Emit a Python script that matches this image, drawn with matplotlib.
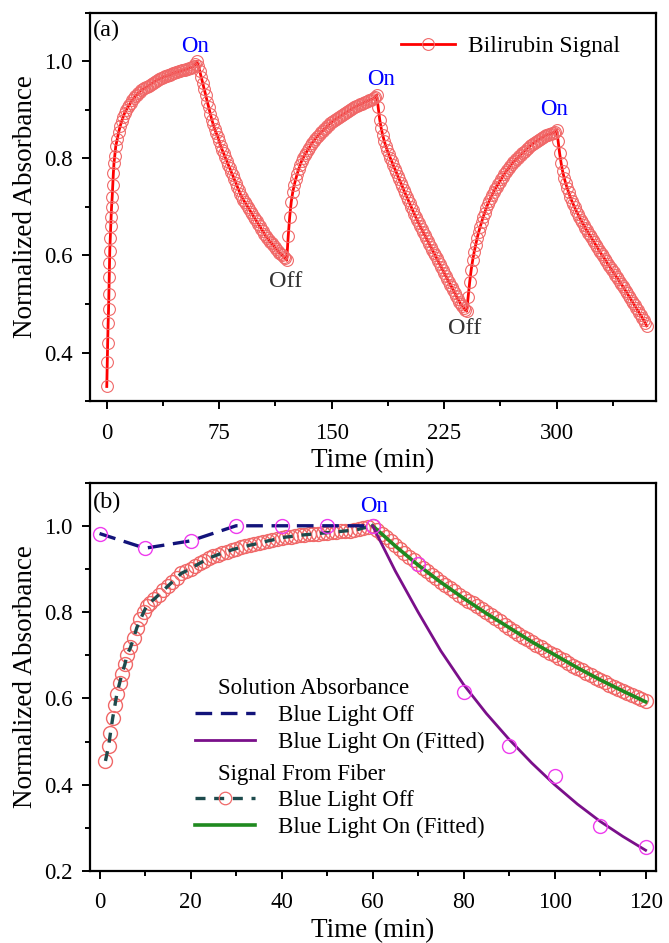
import matplotlib
matplotlib.use("Agg")
from matplotlib import pyplot as plt
from matplotlib.ticker import MultipleLocator
from matplotlib.lines import Line2D
import numpy as np

plt.rcParams['font.family'] = ['Liberation Serif', 'DejaVu Serif']

# ---- panel (a): bilirubin signal, light switched on/off every 60 min ----
# fast first rise sampled finer, then one reading per minute
a_time_start = [0, 0.3, 0.6, 0.9, 1.2, 1.4, 1.6, 1.8, 2.0, 2.3, 2.6, 2.9, 3.2, 3.6, 4.0, 4.4,
                4.8, 5.3]
a_norm_start = [0.33, 0.38, 0.42, 0.46, 0.49, 0.52, 0.555, 0.585, 0.61, 0.635, 0.66, 0.68,
                0.70, 0.72, 0.745, 0.77, 0.79, 0.805]
a_time_min = np.arange(6, 361)
a_norm_min = [
    # 6 - 60 dark recovery
    0.825, 0.84, 0.855, 0.867, 0.877, 0.886, 0.894, 0.90, 0.905, 0.91, 0.915, 0.92, 0.924,
    0.928, 0.931, 0.934, 0.937, 0.94, 0.942, 0.944, 0.946, 0.948, 0.95, 0.952, 0.954, 0.956,
    0.958, 0.96, 0.962, 0.963, 0.965, 0.966, 0.968, 0.969, 0.97, 0.971, 0.972, 0.974, 0.975,
    0.976, 0.977, 0.978, 0.979, 0.98, 0.981, 0.982, 0.983, 0.984, 0.985, 0.986, 0.987, 0.988,
    0.99, 0.994, 1.0,
    # 61 - 120 light on
    0.99, 0.98, 0.967, 0.955, 0.942, 0.93, 0.917, 0.905, 0.892, 0.88, 0.87, 0.86, 0.852,
    0.845, 0.835, 0.825, 0.817, 0.81, 0.802, 0.795, 0.787, 0.78, 0.772, 0.765, 0.757, 0.75,
    0.742, 0.735, 0.727, 0.72, 0.715, 0.71, 0.705, 0.70, 0.695, 0.69, 0.685, 0.68, 0.675,
    0.67, 0.665, 0.66, 0.655, 0.65, 0.645, 0.64, 0.636, 0.632, 0.628, 0.625, 0.621, 0.617,
    0.613, 0.61, 0.606, 0.603, 0.60, 0.597, 0.594, 0.59,
    # 121 - 180 light off
    0.64, 0.68, 0.71, 0.73, 0.745, 0.757, 0.768, 0.778, 0.787, 0.795, 0.801, 0.807, 0.812,
    0.817, 0.822, 0.827, 0.832, 0.836, 0.84, 0.844, 0.847, 0.851, 0.854, 0.857, 0.86, 0.863,
    0.866, 0.869, 0.872, 0.875, 0.877, 0.879, 0.881, 0.883, 0.885, 0.887, 0.889, 0.891,
    0.893, 0.895, 0.897, 0.899, 0.901, 0.903, 0.905, 0.907, 0.908, 0.91, 0.911, 0.913, 0.914,
    0.916, 0.917, 0.918, 0.92, 0.921, 0.922, 0.924, 0.926, 0.93,
    # 181 - 240 light on
    0.905, 0.88, 0.862, 0.848, 0.836, 0.826, 0.817, 0.809, 0.801, 0.794, 0.786, 0.779, 0.772,
    0.764, 0.757, 0.75, 0.743, 0.735, 0.728, 0.721, 0.714, 0.707, 0.70, 0.693, 0.686, 0.679,
    0.673, 0.666, 0.66, 0.654, 0.648, 0.642, 0.636, 0.63, 0.624, 0.618, 0.612, 0.606, 0.60,
    0.594, 0.588, 0.582, 0.576, 0.57, 0.564, 0.558, 0.552, 0.546, 0.54, 0.535, 0.529, 0.523,
    0.517, 0.511, 0.505, 0.50, 0.496, 0.492, 0.488, 0.485,
    # 241 - 300 light off
    0.515, 0.545, 0.57, 0.59, 0.607, 0.622, 0.636, 0.648, 0.659, 0.669, 0.679, 0.688, 0.697,
    0.705, 0.712, 0.719, 0.725, 0.731, 0.737, 0.742, 0.747, 0.752, 0.757, 0.762, 0.767, 0.772,
    0.776, 0.78, 0.784, 0.788, 0.792, 0.795, 0.798, 0.801, 0.804, 0.807, 0.81, 0.813, 0.816,
    0.819, 0.822, 0.825, 0.828, 0.83, 0.832, 0.834, 0.836, 0.838, 0.84, 0.842, 0.844, 0.846,
    0.848, 0.849, 0.85, 0.851, 0.852, 0.853, 0.855, 0.858,
    # 301 - 360 light on
    0.835, 0.81, 0.79, 0.773, 0.76, 0.749, 0.739, 0.73, 0.721, 0.713, 0.706, 0.699, 0.692,
    0.686, 0.68, 0.674, 0.668, 0.663, 0.657, 0.652, 0.647, 0.642, 0.637, 0.632, 0.627, 0.622,
    0.617, 0.612, 0.607, 0.602, 0.598, 0.593, 0.588, 0.583, 0.579, 0.574, 0.569, 0.565, 0.56,
    0.555, 0.551, 0.546, 0.541, 0.537, 0.532, 0.527, 0.522, 0.517, 0.512, 0.507, 0.502, 0.497,
    0.492, 0.487, 0.482, 0.477, 0.472, 0.467, 0.461, 0.455]
a_time = list(a_time_start) + list(a_time_min)
a_norm = a_norm_start + a_norm_min
a_on_time = [59, 183, 298]
a_on_y = [1.03, 0.963, 0.90]
a_off_time = [119, 239]
a_off_y = [0.546, 0.45]

# ---- panel (b): solution vs fiber signal, one cycle ----
sol_time = [0, 10, 20, 30, 40, 50, 60, 70, 80, 90, 100, 110, 120]
sol_norm = [0.982, 0.948, 0.965, 1.0, 1.0, 1.0, 1.0, 0.911, 0.615, 0.49, 0.42, 0.305, 0.255]
sol_off_time = [0, 10, 20, 30, 40, 50, 60]
sol_off_norm = [0.982, 0.948, 0.965, 1.0, 1.0, 1.0, 1.0]
sol_fit_time = [60, 65, 70, 75, 80, 85, 90, 95, 100, 105, 110, 115, 120]
sol_fit_norm = [1.0, 0.895, 0.80, 0.71, 0.632, 0.565, 0.505, 0.45, 0.40, 0.355, 0.315, 0.28, 0.248]

fib_time = [1.3, 2.0, 2.4, 2.9, 3.4, 3.8, 4.4, 4.9, 5.6, 6.0, 6.8, 7.5, 8.2, 9.0, 9.7, 10.4,
            11, 12, 13, 14, 15, 16, 17, 18, 19, 20, 21, 22, 23, 24, 25, 26, 27, 28, 29, 30,
            31, 32, 33, 34, 35, 36, 37, 38, 39, 40, 41, 42, 43, 44, 45, 46, 47, 48, 49, 50,
            51, 52, 53, 54, 55, 56, 57, 58, 59, 60,
            61, 62, 63, 64, 65, 66, 67, 68, 69, 70, 71, 72, 73, 74, 75, 76, 77, 78, 79, 80,
            81, 82, 83, 84, 85, 86, 87, 88, 89, 90, 91, 92, 93, 94, 95, 96, 97, 98, 99, 100,
            101, 102, 103, 104, 105, 106, 107, 108, 109, 110, 111, 112, 113, 114, 115, 116,
            117, 118, 119, 120]
fib_norm = [0.455, 0.49, 0.52, 0.555, 0.585, 0.61, 0.635, 0.656, 0.68, 0.70, 0.718, 0.74,
            0.764, 0.783, 0.80, 0.815,
            0.822, 0.83, 0.84, 0.85, 0.86, 0.87, 0.88, 0.89, 0.895, 0.90, 0.907, 0.913, 0.919,
            0.925, 0.929, 0.933, 0.937, 0.94, 0.944, 0.947, 0.95, 0.952, 0.955, 0.957, 0.96,
            0.962, 0.965, 0.967, 0.97, 0.972, 0.974, 0.975, 0.977, 0.978, 0.979, 0.98, 0.981,
            0.982, 0.983, 0.984, 0.985, 0.986, 0.987, 0.988, 0.989, 0.99, 0.992, 0.995, 0.997,
            1.0,
            0.991, 0.982, 0.973, 0.964, 0.955, 0.946, 0.937, 0.928, 0.920, 0.911, 0.903, 0.895,
            0.886, 0.878, 0.870, 0.863, 0.855, 0.848, 0.840, 0.833, 0.826, 0.820, 0.813, 0.806,
            0.800, 0.793, 0.786, 0.779, 0.771, 0.763, 0.757, 0.750, 0.743, 0.737, 0.730, 0.724,
            0.718, 0.712, 0.706, 0.700, 0.694, 0.688, 0.682, 0.676, 0.670, 0.665, 0.659, 0.654,
            0.648, 0.643, 0.638, 0.632, 0.627, 0.622, 0.617, 0.612, 0.608, 0.603, 0.599, 0.594]
fib_fit_time = [60, 65, 70, 75, 80, 85, 90, 95, 100, 105, 110, 115, 120]
fib_fit_norm = [1.0, 0.953, 0.909, 0.869, 0.832, 0.797, 0.764, 0.731, 0.701, 0.671, 0.643,
                0.617, 0.592]

RED_MK = '#f06868'
fig = plt.figure(figsize=(6.69, 9.43), dpi=100)
ax1 = fig.add_axes([0.1345, 0.5747, 0.8455, 0.4118])
ax2 = fig.add_axes([0.1345, 0.0764, 0.8455, 0.4118])


def style_axes(ax):
    for s in ax.spines.values():
        s.set_linewidth(1.6)
    ax.tick_params(which='both', direction='out', top=False, right=False,
                   labelsize=16.5, width=1.4)
    ax.tick_params(which='major', length=5.5)
    ax.tick_params(which='minor', length=3.5)
    ax.tick_params(axis='x', which='major', pad=10)
    ax.tick_params(axis='y', which='major', pad=7)
    ax.set_ylabel('Normalized Absorbance', fontsize=19.5, labelpad=4)
    ax.set_xlabel('Time (min)', fontsize=19.5, labelpad=3)


# panel (a)
ax1.plot(a_time, a_norm, color='red', lw=2, marker='o', ms=8.5, mfc='none',
         mec=RED_MK, mew=0.8, label='Bilirubin Signal')
for t, y in zip(a_on_time, a_on_y):
    ax1.text(t, y, 'On', color='blue', fontsize=16.5, ha='center', va='center')
for t, y in zip(a_off_time, a_off_y):
    ax1.text(t, y, 'Off', color='#333333', fontsize=17.5, ha='center', va='center')
ax1.text(0.006, 0.955, '(a)', transform=ax1.transAxes, fontsize=17.5, va='center')
ax1.set_xlim(-11.2, 366)
ax1.set_ylim(0.30, 1.10)
ax1.xaxis.set_major_locator(MultipleLocator(75))
ax1.xaxis.set_minor_locator(MultipleLocator(37.5))
ax1.yaxis.set_major_locator(MultipleLocator(0.2))
ax1.yaxis.set_minor_locator(MultipleLocator(0.1))
style_axes(ax1)
ax1.legend(loc='upper right', bbox_to_anchor=(0.975, 0.995), frameon=False, fontsize=17,
           handlelength=2.3, handletextpad=0.55)

# panel (b)
ax2.plot(fib_time, fib_norm, ls='none', marker='o', ms=10, mfc='none', mec=RED_MK, mew=1.0)
ax2.plot(fib_time[:66], fib_norm[:66], color='#1d4a4c', lw=2.4, dashes=(3, 2.6))
ax2.plot(fib_fit_time, fib_fit_norm, color='#1f8a1f', lw=2.6)
ax2.plot(sol_off_time, sol_off_norm, color='#12137a', lw=2.4, dashes=(5, 2.6))
ax2.plot(sol_fit_time, sol_fit_norm, color='#7a0f8a', lw=2)
ax2.plot(sol_time, sol_norm, ls='none', marker='o', ms=10, mfc='none', mec='#ee3cee', mew=1)
ax2.text(60.4, 1.045, 'On', color='blue', fontsize=16.5, ha='center', va='center')
ax2.text(0.006, 0.95, '(b)', transform=ax2.transAxes, fontsize=17.5, va='center')
ax2.set_xlim(-2.1, 122.2)
ax2.set_ylim(0.2, 1.1)
ax2.xaxis.set_major_locator(MultipleLocator(20))
ax2.xaxis.set_minor_locator(MultipleLocator(10))
ax2.yaxis.set_major_locator(MultipleLocator(0.2))
ax2.yaxis.set_minor_locator(MultipleLocator(0.1))
style_axes(ax2)

h_sol = [Line2D([], [], color='#12137a', lw=2.4, dashes=(5, 2.6)),
         Line2D([], [], color='#7a0f8a', lw=2)]
h_fib = [Line2D([], [], color='#1d4a4c', lw=2.4, dashes=(3, 2.6), marker='o', ms=9,
                mfc='none', mec=RED_MK, mew=0.9),
         Line2D([], [], color='#1f8a1f', lw=2.6)]
labels = ['Blue Light Off', 'Blue Light On (Fitted)']
leg1 = ax2.legend(h_sol, labels, title='    Solution Absorbance', loc='upper left',
                  bbox_to_anchor=(0.17, 0.52), frameon=False, fontsize=16.5,
                  title_fontsize=16.5, handlelength=2.6, handletextpad=1.0,
                  labelspacing=0.25, alignment='left', borderaxespad=0)
ax2.add_artist(leg1)
ax2.legend(h_fib, labels, title='    Signal From Fiber', loc='upper left',
           bbox_to_anchor=(0.17, 0.30), frameon=False, fontsize=16.5,
           title_fontsize=16.5, handlelength=2.6, handletextpad=1.0,
           labelspacing=0.25, alignment='left', borderaxespad=0)

fig.savefig('out.png', dpi=100)
